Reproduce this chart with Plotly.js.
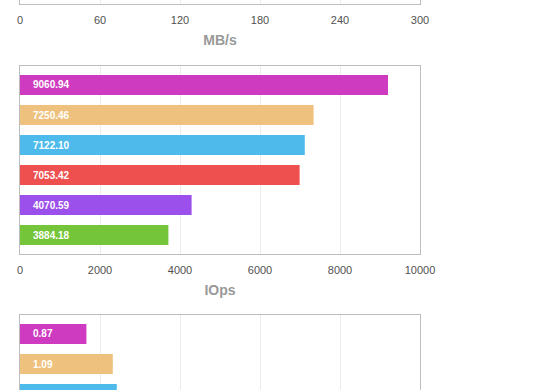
<!DOCTYPE html>
<html>
<head>
<meta charset="utf-8">
<script src="https://cdn.plot.ly/plotly-3.0.1.min.js"></script>
<style>
html,body{margin:0;padding:0;overflow:hidden;background:#fff;width:560px;height:390px;}
#chart{position:absolute;left:0;top:-200px;width:560px;height:753px;}
</style>
</head>
<body>
<div id="chart"></div>
<script>
// Hidden series slots (one per coloured bar)
const categories = ['s1', 's2', 's3', 's4', 's5', 's6'];
const barColors = ['#CF3BC0', '#EEC27E', '#4DBAEB', '#EE5050', '#9B4FEB', '#74C53A'];

// Top chart (only its x axis is visible)
const mbTicks = [0, 60, 120, 180, 240, 300];

// Middle chart: IOps
const iopsValues = [9200, 7340, 7120, 6990, 4290, 3710];
const iopsLabels = ['9060.94', '7250.46', '7122.10', '7053.42', '4070.59', '3884.18'];
const iopsTicks = [0, 2000, 4000, 6000, 8000, 10000];

// Bottom chart (only top part visible)
const latCategories = ['s1', 's2', 's3'];
const latValues = [0.83, 1.16, 1.21];
const latLabels = ['0.87', '1.09', ''];
const latTicks = [0, 1, 2, 3, 4, 5];

const tickFont = {family: 'Liberation Sans, Arial, sans-serif', size: 11, color: '#505050'};
const titleFont = {family: 'Liberation Sans, Arial, sans-serif', size: 14, color: '#999999', weight: 'bold'};
const labelFont = {family: 'Liberation Sans, Arial, sans-serif', size: 10, color: '#ffffff', weight: 'bold'};

function xAxis(anchor, ticks, title, showLabels) {
  return {
    anchor: anchor,
    range: [ticks[0], ticks[ticks.length - 1]],
    tickvals: ticks,
    ticktext: ticks.map(String),
    showticklabels: showLabels,
    showgrid: true, gridcolor: '#ececec', gridwidth: 1,
    zeroline: false,
    showline: true, mirror: true, linecolor: '#bdbdbd', linewidth: 1,
    ticks: '', tickfont: tickFont, ticklabelstandoff: 6,
    title: title ? {text: title, font: titleFont, standoff: 9} : undefined,
    fixedrange: true
  };
}
function yAxis(anchor, domain) {
  return {
    anchor: anchor, domain: domain,
    type: 'category', categoryarray: categories, categoryorder: 'array',
    range: [5.633, -0.633],
    showticklabels: false, showgrid: false, zeroline: false, ticks: '',
    showline: true, mirror: true, linecolor: '#bdbdbd', linewidth: 1,
    fixedrange: true
  };
}

const traces = [
  {type: 'bar', orientation: 'h', x: [], y: [],
   xaxis: 'x', yaxis: 'y', hoverinfo: 'none'},
  {type: 'bar', orientation: 'h', x: iopsValues, y: categories,
   xaxis: 'x2', yaxis: 'y2', marker: {color: barColors}, hoverinfo: 'none'},
  {type: 'bar', orientation: 'h', x: latValues, y: latCategories,
   xaxis: 'x3', yaxis: 'y3', marker: {color: barColors.slice(0, latValues.length)}, hoverinfo: 'none'}
];

const annotations = [];
iopsLabels.forEach((t, i) => annotations.push({
  xref: 'x2', yref: 'y2', x: 0, y: categories[i], text: t, showarrow: false,
  xanchor: 'left', xshift: 11, font: labelFont
}));
latLabels.forEach((t, i) => { if (t) annotations.push({
  xref: 'x3', yref: 'y3', x: 0, y: latCategories[i], text: t, showarrow: false,
  xanchor: 'left', xshift: 11, font: labelFont
}); });

// Figure spans window y = -200 .. 553; plot area from div y 16 to 703
const H = 753, T = 16, B = 50, P = H - T - B;
const dom = (top, bottom) => [(H - B - bottom) / P, (H - B - top) / P];

const layout = {
  width: 560, height: H,
  margin: {l: 20, r: 140, t: T, b: B},
  paper_bgcolor: '#fff', plot_bgcolor: '#fff',
  showlegend: false, bargap: 0.333,
  xaxis: xAxis('y', mbTicks, 'MB/s', true),
  yaxis: yAxis('x', dom(16, 204)),
  xaxis2: xAxis('y2', iopsTicks, 'IOps', true),
  yaxis2: yAxis('x2', dom(266, 454)),
  xaxis3: xAxis('y3', latTicks, '', false),
  yaxis3: yAxis('x3', dom(515, 703)),
  annotations: annotations
};

Plotly.newPlot('chart', traces, layout, {displayModeBar: false, staticPlot: true});
</script>
</body>
</html>
